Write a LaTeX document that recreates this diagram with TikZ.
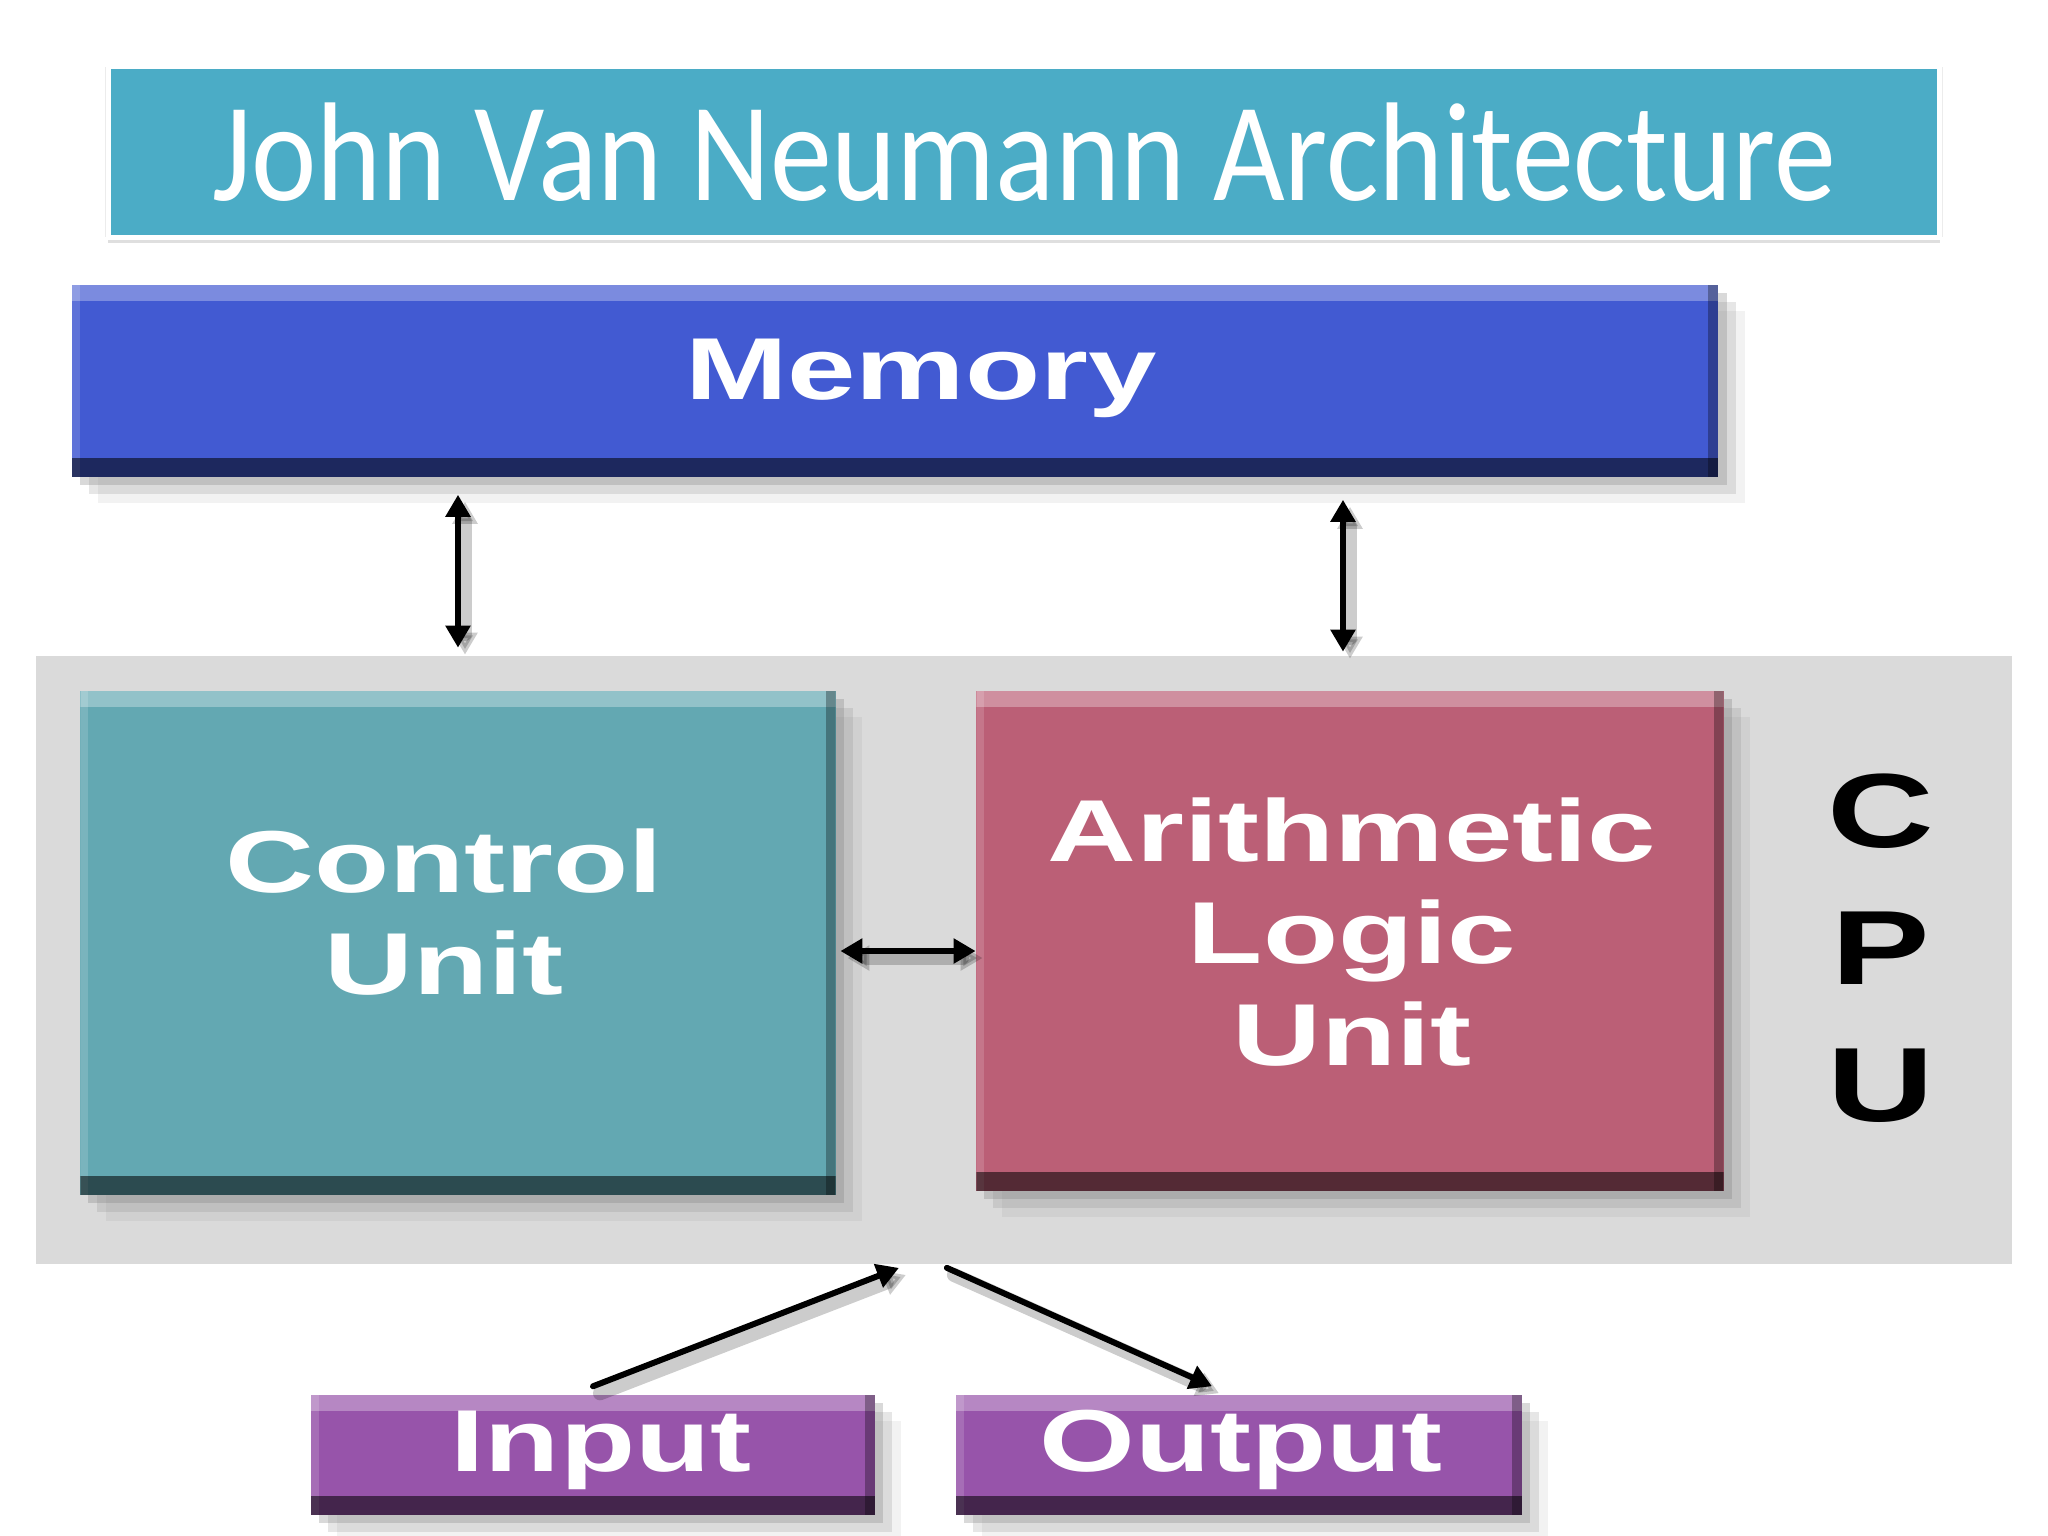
\documentclass[tikz,border=0pt]{standalone}
\usepackage{fontspec}
\setmainfont{Liberation Sans}
\newfontfamily\titlefont[FakeStretch=0.88]{Carlito}
\newfontfamily\boxfont[FakeStretch=1.4]{Liberation Sans Bold}
\usetikzlibrary{arrows.meta, positioning, calc, shadows}

\definecolor{titleblue}{RGB}{75,172,198}
\definecolor{memblue}{RGB}{66,90,210}
\definecolor{ctrlteal}{RGB}{99,168,178}
\definecolor{alurose}{RGB}{187,95,118}
\definecolor{iopurple}{RGB}{151,84,170}
\definecolor{cpugray}{RGB}{218,218,218}

\begin{document}
\begin{tikzpicture}[x=0.01cm, y=-0.01cm, line cap=round, line join=round,
    softshadow/.style={
      drop shadow={shadow xshift=0.26cm, shadow yshift=-0.26cm, opacity=0.1},
      drop shadow={shadow xshift=0.17cm, shadow yshift=-0.17cm, opacity=0.2},
      drop shadow={shadow xshift=0.08cm, shadow yshift=-0.08cm, opacity=0.3}},
    block/.style={inner sep=0pt, softshadow,
      path picture={
        \fill[white, opacity=0.3] (path picture bounding box.north west)
          rectangle ([yshift=-0.16cm]path picture bounding box.north east);
        \fill[white, opacity=0.15] (path picture bounding box.north west)
          rectangle ([xshift=0.08cm]path picture bounding box.south west);
        \fill[black, opacity=0.3] (path picture bounding box.north east)
          rectangle ([xshift=-0.1cm]path picture bounding box.south east);
        \fill[black, opacity=0.55] (path picture bounding box.south west)
          rectangle ([yshift=0.19cm]path picture bounding box.south east);
      }},
    titlebar/.style={fill=titleblue, draw=white, line width=0.5mm, inner sep=0pt,
      drop shadow={shadow xshift=0cm, shadow yshift=-0.06cm, opacity=0.25},
      drop shadow={shadow xshift=0cm, shadow yshift=0cm, opacity=0.15,
        shadow scale=1.004},
      text=white, font=\titlefont\fontsize{40}{48}\selectfont},
    lbl/.style={font=\boxfont\fontsize{25}{29}\selectfont, text=white, align=center},
    wire/.style={line width=1.7pt,
      preaction={draw=black, opacity=0.2, line width=4pt,
        transform canvas={xshift=0.07cm, yshift=-0.07cm}}},
    >={Triangle[length=2.2mm, width=2.4mm]}]
  % page frame
  \useasboundingbox (0,0) rectangle (2048,1536);
  % --- title ----------------------------------------------------------
  \node[titlebar, minimum width=18.3cm, minimum height=1.7cm] (title) at (1024,152)
      {John Van Neumann Architecture};
  % --- CPU zone -------------------------------------------------------
  \node[fill=cpugray, inner sep=0pt, minimum width=19.74cm, minimum height=6.07cm]
      (cpu) at (1024,960) {};
  \node[font=\boxfont\fontsize{30}{39}\selectfont, align=center] (cpu label)
      at (1881,948) {C\\P\\U};
  % --- memory ---------------------------------------------------------
  \node[block, fill=memblue, minimum width=16.46cm, minimum height=1.92cm]
      (memory) at (895,381) {};
  \node[lbl] (memory text) at (921,378) {Memory};
  % --- control unit and ALU -------------------------------------------
  \node[block, fill=ctrlteal, minimum width=7.55cm, minimum height=5.03cm]
      (ctrl) at (458,943) {};
  \node[lbl] (ctrl text) at (444,912) {Control\\Unit};
  \node[block, fill=alurose, minimum width=7.47cm, minimum height=4.99cm]
      (alu) at (1350,941) {};
  \node[lbl] (alu text) at (1352,932) {Arithmetic\\Logic\\Unit};
  % --- input / output -------------------------------------------------
  \node[block, fill=iopurple, minimum width=5.64cm, minimum height=1.2cm]
      (input) at (593,1455) {};
  \node[lbl] (input text) at (601,1450) {Input};
  \node[block, fill=iopurple, minimum width=5.66cm, minimum height=1.2cm]
      (output) at (1239,1455) {};
  \node[lbl] (output text) at (1241,1450) {Output};
  % --- buses ----------------------------------------------------------
  \draw[<->, wire] ([yshift=-0.17cm]memory.south -| ctrl.north)
      -- ([yshift=0.43cm]ctrl.north);
  \draw[<->, wire] ([xshift=-0.07cm, yshift=-0.22cm]memory.south -| alu.north)
      -- ([xshift=-0.07cm, yshift=0.39cm]alu.north);
  \draw[<->, wire] ([xshift=0.04cm, yshift=-0.08cm]ctrl.east)
      -- ([yshift=-0.08cm]ctrl.east -| alu.west);
  \draw[->, wire] ([yshift=0.08cm]input.north)
      -- ([xshift=-1.25cm, yshift=-0.035cm]cpu.south);
  \draw[->, wire] ([xshift=-0.77cm, yshift=-0.035cm]cpu.south)
      -- ([xshift=-0.27cm, yshift=0.08cm]output.north);
\end{tikzpicture}
\end{document}
